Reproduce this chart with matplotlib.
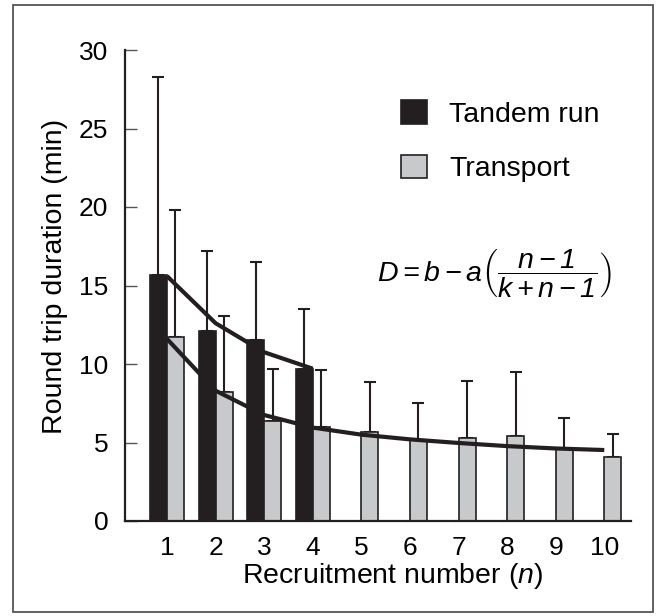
import matplotlib
matplotlib.use("Agg")
import matplotlib.pyplot as plt
from matplotlib.patches import Patch, Rectangle
import numpy as np

# ---- data ----
recruit_n = [1, 2, 3, 4, 5, 6, 7, 8, 9, 10]
tandem_n = [1, 2, 3, 4]
tandem_mean = [15.7, 12.1, 11.5, 9.7]
tandem_sd = [12.6, 5.1, 5.0, 3.8]
transport_mean = [11.7, 8.2, 6.4, 6.0, 5.7, 5.15, 5.3, 5.4, 4.6, 4.05]
transport_sd = [8.1, 4.85, 3.3, 3.6, 3.15, 2.35, 3.6, 4.1, 1.95, 1.5]
tandem_fit = [15.6, 12.6, 10.75, 9.7]
transport_fit = [11.6, 8.3, 6.75, 5.95, 5.5, 5.2, 4.97, 4.77, 4.62, 4.52]
yticks = [0, 5, 10, 15, 20, 25, 30]
legend_labels = ["Tandem run", "Transport"]

plt.rcParams["font.family"] = ["Liberation Sans", "DejaVu Sans"]
plt.rcParams["mathtext.fontset"] = "custom"
plt.rcParams["mathtext.rm"] = "Liberation Sans:italic"
plt.rcParams["mathtext.it"] = "Liberation Sans:italic"
plt.rcParams["mathtext.sf"] = "Liberation Sans:italic"

dark = "#231f20"
grey = "#c8c9cb"

fig = plt.figure(figsize=(6.57, 6.16), dpi=100)
ax = fig.add_axes([125 / 657, 1 - 521 / 616, (631 - 125) / 657, (521 - 50) / 616])

# outer frame
fig.patches.append(Rectangle((13 / 657, 1 - 612 / 616), (653 - 13) / 657, (612 - 5) / 616,
                             transform=fig.transFigure, fill=False,
                             edgecolor="#555555", linewidth=1.3))

w = 0.35
tx = np.array(tandem_n, dtype=float)
rx = np.array(recruit_n, dtype=float)

ax.errorbar(tx - w / 2, tandem_mean, yerr=[np.zeros(len(tandem_sd)), tandem_sd],
            fmt="none", ecolor=dark, elinewidth=1.5, capsize=4.5, capthick=1.5, zorder=1)
ax.errorbar(rx + w / 2, transport_mean, yerr=[np.zeros(len(transport_sd)), transport_sd],
            fmt="none", ecolor=dark, elinewidth=1.5, capsize=4.5, capthick=1.5, zorder=1)

ax.bar(tx, tandem_mean, width=-w, align="edge", color=dark, edgecolor=dark,
       linewidth=1.2, zorder=2)
ax.bar(rx, transport_mean, width=w, align="edge", color=grey, edgecolor=dark,
       linewidth=1.2, zorder=2)

ax.plot(tx, tandem_fit, color=dark, linewidth=3, zorder=3, solid_capstyle="butt")
ax.plot(rx, transport_fit, color=dark, linewidth=3, zorder=3, solid_capstyle="butt")

ax.set_xlim(0.136, 10.55)
ax.set_ylim(0, 30)
ax.set_yticks(yticks)
ax.set_xticks(recruit_n)
ax.tick_params(axis="y", direction="in", length=8.6, width=1, color="#555555",
               labelsize=19, pad=12)
ax.tick_params(axis="x", length=0, labelsize=19, pad=11)
for s in ["top", "right"]:
    ax.spines[s].set_visible(False)
for s in ["left", "bottom"]:
    ax.spines[s].set_linewidth(1.6)
    ax.spines[s].set_color(dark)

ax.set_ylabel("Round trip duration (min)", fontsize=20.5)
ax.yaxis.set_label_coords(-0.113, 0.519)
ax.set_xlabel(r"Recruitment number ($n$)", fontsize=20.5)
ax.xaxis.set_label_coords(0.528, -0.085)

handles = [Patch(facecolor=dark, edgecolor=dark, linewidth=1.2),
           Patch(facecolor=grey, edgecolor=dark, linewidth=1.2)]
ax.legend(handles, legend_labels, loc="upper left",
          bbox_to_anchor=(401 / 657, 1 - 100 / 616), bbox_transform=fig.transFigure,
          frameon=False, fontsize=20.5, handlelength=0.9, handleheight=0.9,
          handletextpad=0.8, labelspacing=0.95, borderpad=0, borderaxespad=0)

ax.text(5.32, 15.8, r"$D = b - a\left(\dfrac{n-1}{k+n-1}\right)$",
        fontsize=20.5, ha="left", va="center")

fig.savefig("out.png", dpi=100)
